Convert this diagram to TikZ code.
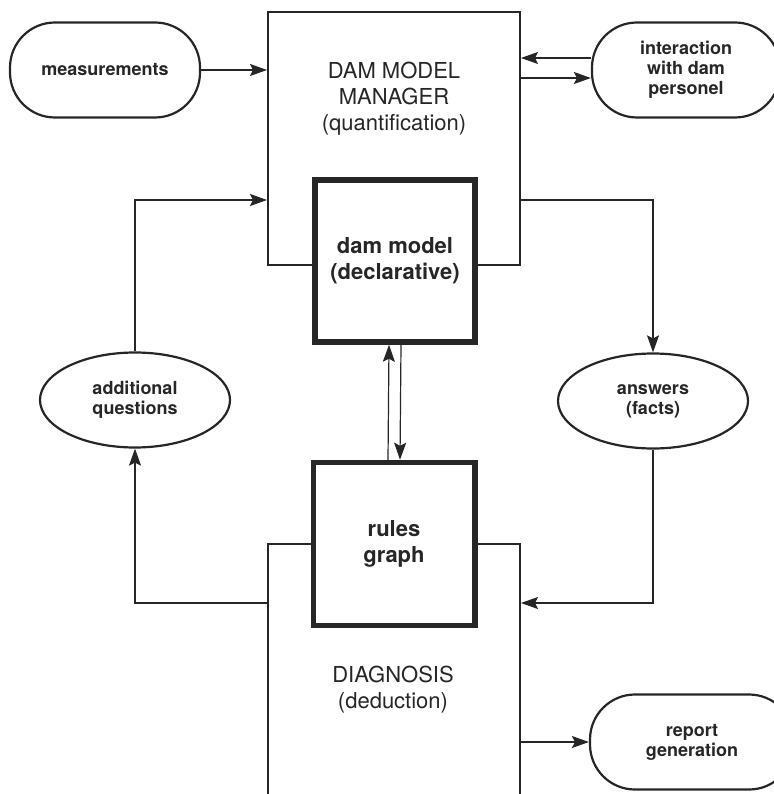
\documentclass[tikz,border=0pt]{standalone}
\usepackage{fontspec}
\setmainfont{TeX Gyre Heros}
\usetikzlibrary{shapes.geometric,arrows.meta}
\colorlet{ink}{black!85}
\tikzset{
	bigbox/.style={draw=ink,line width=2pt,minimum width=252pt},
	corebox/.style={draw=ink,line width=5.5pt,fill=white,text=ink,align=center,
		font=\bfseries\fontsize{22}{26}\selectfont},
	boxtext/.style={text=ink,align=center,font=\fontsize{22}{26}\selectfont},
	oval/.style={draw=ink,line width=2.2pt,rounded corners=45pt,minimum height=95pt,
		text=ink,align=center,font=\bfseries\fontsize{18}{20}\selectfont},
	elli/.style={draw=ink,ellipse,line width=2.2pt,inner sep=0pt,minimum width=190pt,
		minimum height=95pt,text=ink,align=center,font=\bfseries\fontsize{18}{20}\selectfont},
	flow/.style={draw=ink,line width=1.2pt,-{Stealth[length=17pt,width=12pt,inset=3pt]}}
}
\begin{document}
\begin{tikzpicture}[x=1pt,y=-1pt]
		\useasboundingbox (0,0) rectangle (773,794);
		% the two big boxes and the cores set into them
		\node[bigbox,minimum height=253pt] (man) at (394,138.5) {};
		\node[corebox,minimum width=160pt,minimum height=162pt] (dam) at (395,261) {dam model\\(declarative)};
		\node[bigbox,minimum height=256pt] (diag) at (394,672) {};
		\node[corebox,minimum width=161.5pt,minimum height=163pt] (rules) at (394,544) {rules\\graph};
		\node[boxtext] (mantxt) at (394,99) {DAM MODEL\\MANAGER\\(quantification)};
		\node[boxtext] (diagtxt) at (393,690) {DIAGNOSIS\\(deduction)};
		% outside
		\node[oval,minimum width=190pt] (meas) at (105,70) {measurements};
		\node[oval,minimum width=188pt] (inter) at (686,70) {interaction\\with dam\\personel};
		\node[oval,minimum width=204pt] (rep) at (692,742) {report\\generation};
		\node[elli] (addq) at (135,400) {additional\\questions};
		\node[elli] (ans) at (653,401) {answers\\(facts)};
		\coordinate (ytop) at (0,200);
		\coordinate (ybot) at (0,603);
		% connectors
		\draw[flow] (meas) -- (meas -| man.west);
		\draw[flow] ([yshift=12pt]inter.west) -- ([yshift=12pt]inter.west -| man.east);
		\draw[flow] ([yshift=-8pt]inter.west -| man.east) -- ([yshift=-8pt]inter.west);
		\draw[flow] (man.east |- ytop) -| (ans);
		\draw[flow] (ans) |- (diag.east |- ybot);
		\draw[flow] (diag.west |- ybot) -| (addq);
		\draw[flow] (addq) |- (man.west |- ytop);
		\draw[flow] ([xshift=-6pt]rules.north) -- ([xshift=-6pt]dam.south);
		\draw[flow] ([xshift=6pt]dam.south) -- ([xshift=6pt]rules.north);
		\draw[flow] (rep -| diag.east) -- (rep);
\end{tikzpicture}
\end{document}
